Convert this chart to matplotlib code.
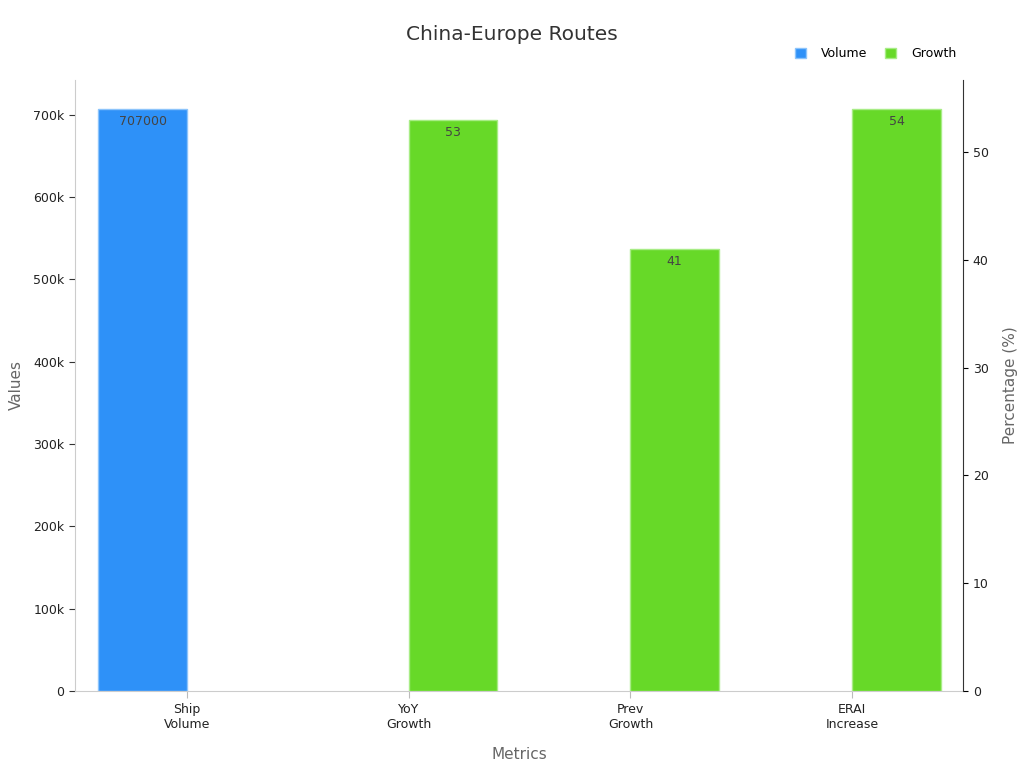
import matplotlib.pyplot as plt
import numpy as np
from matplotlib.patches import Patch

categories = ['Ship\nVolume', 'YoY\nGrowth', 'Prev\nGrowth', 'ERAI\nIncrease']
volume = [707000, None, None, None]
growth = [None, 53, 41, 54]

blue = '#2E91F8'
green = '#67D928'

fig = plt.figure(figsize=(10.24, 7.68), dpi=100)
ax1 = fig.add_axes([0.0732, 0.1003, 0.8672, 0.7955])
ax2 = ax1.twinx()

x = np.arange(len(categories))
w = 0.4

vol_x = [i for i, v in zip(x, volume) if v is not None]
vol_y = [v for v in volume if v is not None]
gr_x = [i for i, v in zip(x, growth) if v is not None]
gr_y = [v for v in growth if v is not None]

b1 = ax1.bar(np.array(vol_x) - w / 2, vol_y, width=w, color=blue, edgecolor='#8CC4FB', linewidth=1)
b2 = ax2.bar(np.array(gr_x) + w / 2, gr_y, width=w, color=green, edgecolor='#A8EC86', linewidth=1)

for rect, v in zip(b1, vol_y):
    ax1.annotate(f'{v}', (rect.get_x() + rect.get_width() / 2, rect.get_height()),
                 xytext=(0, -4.5), textcoords='offset points', ha='center', va='top',
                 fontsize=9, color='#444444')
for rect, v in zip(b2, gr_y):
    ax2.annotate(f'{v}', (rect.get_x() + rect.get_width() / 2, rect.get_height()),
                 xytext=(0, -4.5), textcoords='offset points', ha='center', va='top',
                 fontsize=9, color='#444444')

ax1.set_xlim(-0.505, 3.5)
ax1.set_ylim(0, max(vol_y) * 1.05)
ax2.set_ylim(0, max(gr_y) * 1.05)

ax1.set_xticks(x)
ax1.set_xticklabels(categories, fontsize=9, color='#222222')
ax1.set_yticks([0, 100000, 200000, 300000, 400000, 500000, 600000, 700000])
ax1.set_yticklabels(['0', '100k', '200k', '300k', '400k', '500k', '600k', '700k'], fontsize=9, color='#222222')
ax2.set_yticks([0, 10, 20, 30, 40, 50])
ax2.tick_params(axis='y', labelsize=9, labelcolor='#222222')

ax1.tick_params(axis='x', color='#BBBBBB', length=5)
ax1.tick_params(axis='y', color='#333333', length=4)

for s in ['top', 'right']:
    ax1.spines[s].set_visible(False)
ax1.spines['left'].set_color('#CCCCCC')
ax1.spines['bottom'].set_color('#CCCCCC')
ax2.spines['top'].set_visible(False)
ax2.spines['left'].set_visible(False)
ax2.spines['bottom'].set_visible(False)
ax2.spines['right'].set_color('#333333')

ax1.set_xlabel('Metrics', fontsize=11, color='#666666', labelpad=12)
ax1.set_ylabel('Values', fontsize=11, color='#666666', labelpad=7)
ax2.set_ylabel('Percentage (%)', fontsize=11, color='#666666', labelpad=10)

fig.suptitle('China-Europe Routes', fontsize=14.5, color='#333333', y=0.968)

handles = [Patch(facecolor=blue, edgecolor='#8CC4FB', label='Volume'),
           Patch(facecolor=green, edgecolor='#A8EC86', label='Growth')]
fig.legend(handles=handles, loc='center right', bbox_to_anchor=(0.945, 0.930), ncol=2,
           frameon=False, fontsize=9, handlelength=0.9, handleheight=0.9,
           handletextpad=1.2, columnspacing=1.4)

fig.savefig('out.png', dpi=100)
